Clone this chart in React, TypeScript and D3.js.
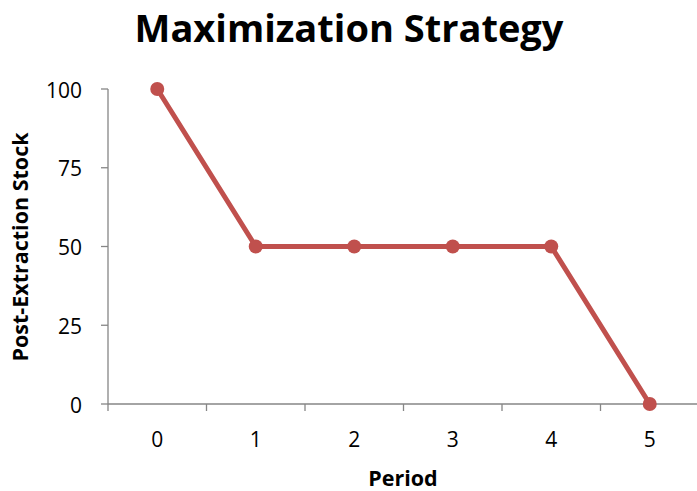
import { useEffect, useRef } from "react";
import * as d3 from "d3";

const periods = ["0", "1", "2", "3", "4", "5"];
const stock = [100, 50, 50, 50, 50, 0];
const yTicks = [0, 25, 50, 75, 100];

const W = 697;
const H = 491;
const COLOR = "#C0504D";
const AXIS = "#868686";
const FONT = "'Open Sans', 'Liberation Sans', sans-serif";

export default function App() {
  const ref = useRef<SVGSVGElement | null>(null);

  useEffect(() => {
    document.body.style.margin = "0";
    const svg = d3.select(ref.current);
    svg.selectAll("*").remove();

    const m = { t: 89, r: -2, b: 87, l: 108 };
    const w = W - m.l - m.r;
    const h = H - m.t - m.b;

    const x = d3.scaleBand<string>().domain(periods).range([0, w]);
    const y = d3.scaleLinear().domain([0, 100]).range([h, 0]);

    svg
      .append("text")
      .attr("x", 349)
      .attr("y", 42)
      .attr("text-anchor", "middle")
      .attr("font-family", FONT)
      .attr("font-weight", "bold")
      .attr("font-size", 38)
      .text("Maximization Strategy");

    const g = svg.append("g").attr("transform", `translate(${m.l},${m.t})`);

    // y axis
    g.append("line")
      .attr("x1", 0)
      .attr("x2", 0)
      .attr("y1", 0)
      .attr("y2", h + 7)
      .attr("stroke", AXIS)
      .attr("stroke-width", 1.3);
    yTicks.forEach((tv) => {
      g.append("line")
        .attr("x1", -7)
        .attr("x2", 0)
        .attr("y1", y(tv))
        .attr("y2", y(tv))
        .attr("stroke", AXIS)
        .attr("stroke-width", 1.3);
      g.append("text")
        .attr("x", -26)
        .attr("y", y(tv) + 8.5)
        .attr("text-anchor", "end")
        .attr("font-family", FONT)
        .attr("font-size", 21)
        .attr("fill", "#000")
        .text(tv);
    });

    // x axis
    g.append("line")
      .attr("x1", 0)
      .attr("x2", w)
      .attr("y1", h)
      .attr("y2", h)
      .attr("stroke", AXIS)
      .attr("stroke-width", 1.3);
    periods.forEach((p) => {
      const tx = (x(p) ?? 0) + x.bandwidth();
      g.append("line")
        .attr("x1", tx)
        .attr("x2", tx)
        .attr("y1", h)
        .attr("y2", h + 7)
        .attr("stroke", AXIS)
        .attr("stroke-width", 1.3);
      g.append("text")
        .attr("x", (x(p) ?? 0) + x.bandwidth() / 2)
        .attr("y", h + 43)
        .attr("text-anchor", "middle")
        .attr("font-family", FONT)
        .attr("font-size", 21)
        .text(p);
    });

    // axis titles
    svg
      .append("text")
      .attr("x", 403)
      .attr("y", 486)
      .attr("text-anchor", "middle")
      .attr("font-family", FONT)
      .attr("font-weight", "bold")
      .attr("font-size", 21.5)
      .text("Period");

    svg
      .append("text")
      .attr("transform", `translate(28,247) rotate(-90)`)
      .attr("text-anchor", "middle")
      .attr("font-family", FONT)
      .attr("font-weight", "bold")
      .attr("font-size", 21.5)
      .text("Post-Extraction Stock");

    const cx = (i: number) => (x(periods[i]) ?? 0) + x.bandwidth() / 2;

    const line = d3
      .line<number>()
      .x((_, i) => cx(i))
      .y((d) => y(d));

    g.append("path")
      .datum(stock)
      .attr("fill", "none")
      .attr("stroke", COLOR)
      .attr("stroke-width", 5)
      .attr("stroke-linejoin", "round")
      .attr("d", line);

    g.selectAll("circle")
      .data(stock)
      .join("circle")
      .attr("cx", (_, i) => cx(i))
      .attr("cy", (d) => y(d))
      .attr("r", 7)
      .attr("fill", COLOR);
  }, []);

  return <svg ref={ref} width={W} height={H} style={{ display: "block" }} />;
}
